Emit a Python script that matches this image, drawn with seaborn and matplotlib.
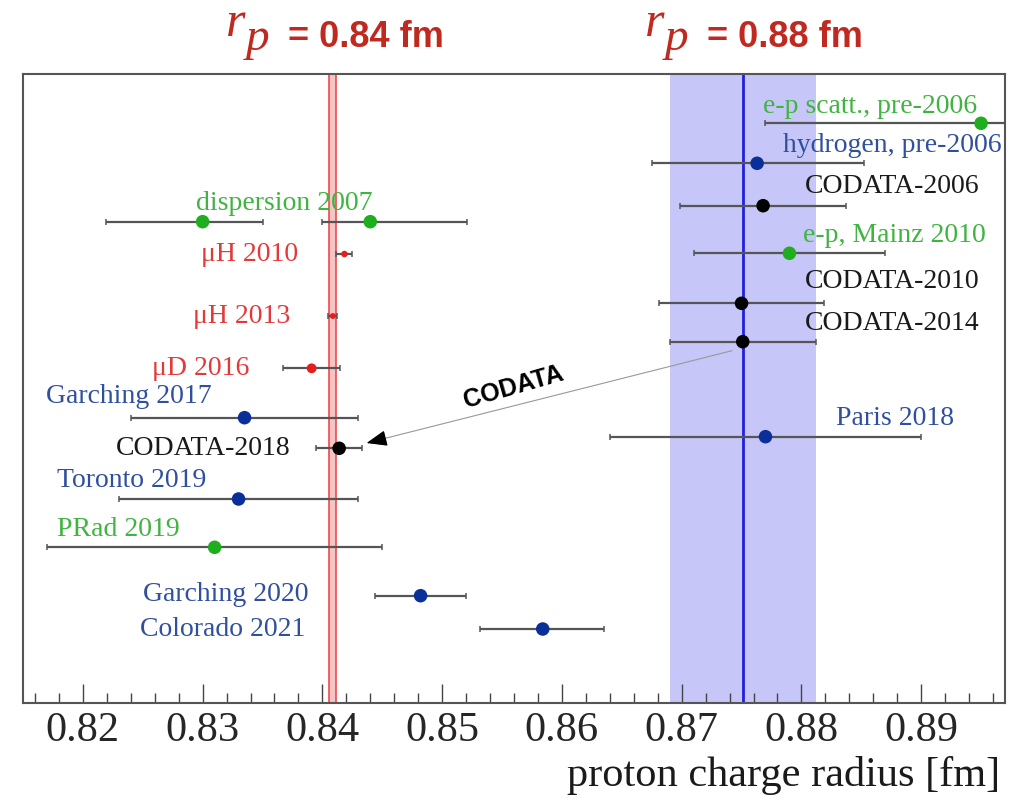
import numpy as np
import pandas as pd
import matplotlib
matplotlib.use("Agg")
import matplotlib.pyplot as plt
from matplotlib.ticker import MultipleLocator
import seaborn as sns

# ---- data ----
names = ["e-p scatt., pre-2006", "hydrogen, pre-2006", "CODATA-2006", "dispersion 2007",
         "dispersion 2007", "e-p, Mainz 2010", "μH 2010", "CODATA-2010", "μH 2013",
         "CODATA-2014", "μD 2016", "Garching 2017", "CODATA-2018", "Paris 2018",
         "Toronto 2019", "PRad 2019", "Garching 2020", "Colorado 2021"]
radius = [0.8950, 0.8763, 0.8768, 0.8300, 0.8440, 0.8790, 0.84184, 0.8750, 0.84087,
          0.8751, 0.8391, 0.8335, 0.8414, 0.8770, 0.8330, 0.8310, 0.8482, 0.8584]
err_lo = [0.018, 0.0088, 0.0069, 0.0081, 0.0040, 0.008, 0.00067, 0.0069, 0.00039,
          0.0061, 0.0024, 0.0095, 0.0019, 0.013, 0.010, 0.014, 0.0038, 0.0052]
err_hi = [0.018, 0.0089, 0.0069, 0.0050, 0.0081, 0.008, 0.00067, 0.0069, 0.00039,
          0.0061, 0.0024, 0.0095, 0.0019, 0.013, 0.010, 0.014, 0.0038, 0.0051]
kind = ["ep", "H", "codata", "ep", "ep", "ep", "muon", "codata", "muon",
        "codata", "muon", "H", "codata", "H", "H", "ep", "H", "H"]
# vertical slot of each entry (top = 0)
row = [4.93, 8.93, 13.17, 14.77, 14.77, 17.93, 18.0, 22.93, 24.2,
       26.77, 29.43, 34.37, 37.43, 36.27, 42.5, 47.33, 52.17, 55.5]

mu_h = 0.84087        # red line, r_p = 0.84 fm
codata14 = 0.8751     # blue line, r_p = 0.88 fm
codata14_err = 0.0061

# ---- layout / style ----
point_color = {"ep": "#1fae1f", "H": "#0b2f99", "codata": "black", "muon": "#e81c1c"}
text_color = {"ep": "#40b440", "H": "#30509f", "codata": "#1a1a1a", "muon": "#e23a3a"}
marker_area = {"μH 2010": 22, "μH 2013": 18, "μD 2016": 50}

# label anchor: (x, slot, horizontal alignment)
label_pos = {
    "e-p scatt., pre-2006": (0.8947, 3.27, "right"),
    "hydrogen, pre-2006": (0.8967, 7.1, "right"),
    "CODATA-2006": (0.8949, 11.27, "right"),
    "dispersion 2007": (0.8368, 12.93, "center"),
    "e-p, Mainz 2010": (0.8954, 16.1, "right"),
    "μH 2010": (0.8380, 18.0, "right"),
    "CODATA-2010": (0.8949, 20.77, "right"),
    "μH 2013": (0.8373, 24.2, "right"),
    "CODATA-2014": (0.8949, 24.93, "right"),
    "μD 2016": (0.8339, 29.43, "right"),
    "Garching 2017": (0.8169, 32.27, "left"),
    "CODATA-2018": (0.8373, 37.4, "right"),
    "Paris 2018": (0.8927, 34.4, "right"),
    "Toronto 2019": (0.8178, 40.6, "left"),
    "PRad 2019": (0.8178, 45.53, "left"),
    "Garching 2020": (0.8388, 52.0, "right"),
    "Colorado 2021": (0.8386, 55.53, "right"),
}

df = pd.DataFrame({"name": names, "radius": radius, "lo": err_lo, "hi": err_hi,
                   "kind": kind, "row": row})
df["area"] = df["name"].map(lambda n: marker_area.get(n, 95))

sns.set_theme(style="white")
plt.rcParams["font.family"] = ["Liberation Serif", "DejaVu Serif"]

fig = plt.figure(figsize=(10.25, 8.01), dpi=100)
ax = fig.add_axes([23 / 1025, 1 - 703 / 801, 982 / 1025, 629 / 801])

# bands and reference lines
ax.axvspan(codata14 - codata14_err, codata14 + codata14_err, color="#c6c6f8", lw=0, zorder=0)
ax.axvline(codata14, color="#2020e0", lw=2, zorder=1)
ax.axvspan(mu_h - 0.0003, mu_h + 0.0003, facecolor="#f6c4c4", edgecolor="#ee4a4a",
           lw=1.2, zorder=1)

ax.errorbar(df["radius"], df["row"], xerr=[df["lo"], df["hi"]], fmt="none",
            ecolor="#555555", elinewidth=1.6, capsize=2.2, capthick=1.1, zorder=2)

sizes = {a: a for a in df["area"].unique()}
sns.scatterplot(data=df, x="radius", y="row", hue="kind", palette=point_color,
                size="area", sizes=sizes, linewidth=0, legend=False, ax=ax, zorder=3)

drawn = set()
for n, k in zip(names, kind):
    if n in drawn:
        continue
    drawn.add(n)
    x, y, ha = label_pos[n]
    ax.text(x, y, n, ha=ha, va="center", fontsize=20, color=text_color[k], zorder=4)

# CODATA arrow
ax.annotate("", xy=(0.8437, 36.9), xytext=(0.8742, 27.67),
            arrowprops=dict(arrowstyle="-|>,head_length=0.9,head_width=0.35",
                            color="#999999", lw=0.8, shrinkA=0, shrinkB=0,
                            mutation_scale=14), zorder=4)
ax.annotate("", xy=(0.8437, 36.9), xytext=(0.8452, 36.45),
            arrowprops=dict(arrowstyle="-|>,head_length=0.9,head_width=0.35",
                            color="black", lw=0.8, shrinkA=0, shrinkB=0,
                            mutation_scale=14), zorder=5)
ax.text(0.8560, 31.27, "CODATA", fontsize=18, fontweight="bold",
        family="Liberation Sans", rotation=16, ha="center", va="center",
        rotation_mode="anchor", color="black")

ax.set_xlim(0.8150, 0.8970)
ax.set_ylim(62.9, 0)
ax.set_yticks([])
ax.xaxis.set_major_locator(MultipleLocator(0.01))
ax.xaxis.set_minor_locator(MultipleLocator(0.002))
ax.xaxis.set_major_formatter(matplotlib.ticker.FormatStrFormatter("%.2f"))
ax.tick_params(axis="x", which="major", direction="in", length=14, width=1,
               color="#444444", labelsize=30.5, pad=6, bottom=True, top=False)
ax.tick_params(axis="x", which="minor", direction="in", length=7, width=1,
               color="#444444", bottom=True, top=False)
for s in ax.spines.values():
    s.set_color("#555555")
    s.set_linewidth(1.5)
ax.set_xlabel("")
ax.set_ylabel("")

fig.text(1000 / 1025, 1 - 786 / 801, "proton charge radius [fm]", ha="right",
         va="baseline", fontsize=30.5, color="#1a1a1a")

# headline values
title_red = "#c0291f"
for x_r, x_eq, val in [(226, 288, "0.84"), (645, 707, "0.88")]:
    fig.text(x_r / 1025, 1 - 36 / 801, "r", fontsize=36, style="italic",
             color=title_red, ha="left", va="baseline")
    fig.text((x_r + 20) / 1025, 1 - 50 / 801, "p", fontsize=34, style="italic",
             color=title_red, ha="left", va="baseline")
    fig.text(x_eq / 1025, 1 - 47 / 801, "= " + val + " fm", fontsize=26,
             fontweight="bold", family="Liberation Sans", color=title_red,
             ha="left", va="baseline")

fig.savefig("out.png", dpi=100)
